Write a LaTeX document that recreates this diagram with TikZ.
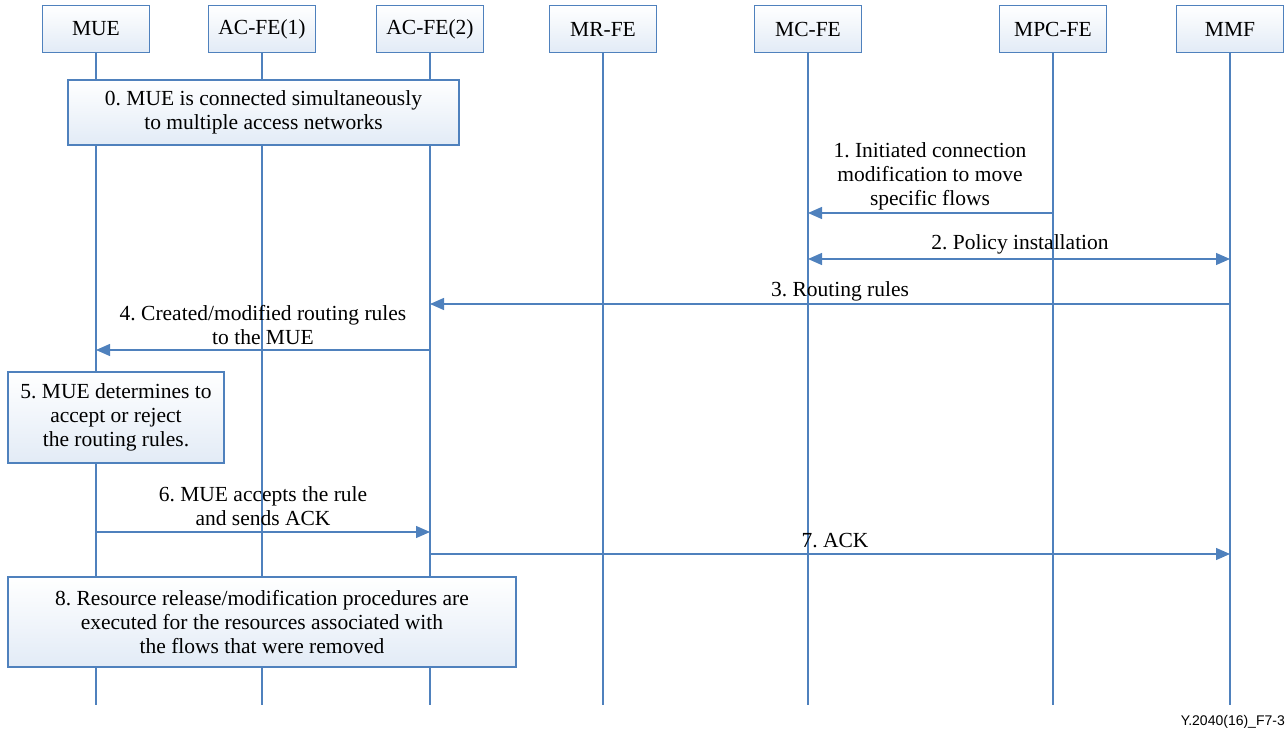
\documentclass[tikz,border=0pt]{standalone}
\usepackage{fontspec}
\setmainfont{Liberation Serif}
\setsansfont{Liberation Sans}
\usetikzlibrary{arrows.meta}
\usetikzlibrary{positioning}
\frenchspacing

\definecolor{lineblue}{RGB}{79,129,189}
\definecolor{boxblue}{RGB}{226,235,246}

\tikzset{
  every node/.style={font=\fontsize{21.5}{24}\selectfont},
  entity/.style={draw=lineblue, line width=1.3pt, top color=white, bottom color=boxblue,
                 minimum width=107pt, minimum height=47pt, inner sep=0pt},
  notebox/.style={draw=lineblue, line width=1.3pt, top color=white, bottom color=boxblue,
                  align=center, inner sep=0pt},
  lifeline/.style={draw=lineblue, line width=1.3pt},
  msg/.style={draw=lineblue, line width=1.3pt, >={Triangle[length=14pt,width=12pt]}},
  lbl/.style={align=center, inner sep=0pt}
}

\begin{document}
\begin{tikzpicture}[x=1pt,y=-1pt]
  \useasboundingbox (0,0) rectangle (1288,735);

  \node[entity] (mue)   at (96,29)   {MUE};
  \node[entity] (acfe1) at (262,29)  {AC-FE(1)};
  \node[entity] (acfe2) at (430,29)  {AC-FE(2)};
  \node[entity] (mrfe)  at (603,29)  {MR-FE};
  \node[entity] (mcfe)  at (808,29)  {MC-FE};
  \node[entity] (mpcfe) at (1053,29) {MPC-FE};
  \node[entity] (mmf)   at (1230,29) {MMF};

  \draw[lifeline] (mue)   -- (mue   |- 0,705);
  \draw[lifeline] (acfe1) -- (acfe1 |- 0,705);
  \draw[lifeline] (acfe2) -- (acfe2 |- 0,705);
  \draw[lifeline] (mrfe)  -- (mrfe  |- 0,705);
  \draw[lifeline] (mcfe)  -- (mcfe  |- 0,705);
  \draw[lifeline] (mpcfe) -- (mpcfe |- 0,705);
  \draw[lifeline] (mmf)   -- (mmf   |- 0,705);

  \node[notebox, minimum width=391pt, minimum height=65pt] (step0) at (263.5,112.5)
    {0. MUE is connected simultaneously\\to multiple access networks};

  \draw[msg,->] (mpcfe |- 0,213) -- (mcfe |- 0,213);
  \node[lbl] (lbl1) at (930,176) {1. Initiated connection\\modification to move\\specific flows};

  \draw[msg,<->] (mcfe |- 0,259) -- (mmf |- 0,259);
  \node[lbl] (lbl2) at (1020,244) {2. Policy installation};

  \draw[msg,->] (mmf |- 0,304) -- (acfe2 |- 0,304);
  \node[lbl] (lbl3) at (840,291) {3. Routing rules};

  \draw[msg,->] (acfe2 |- 0,350) -- (mue |- 0,350);
  \node[lbl] (lbl4) at (263,325) {4. Created/modified routing rules\\to the MUE};

  \node[notebox, minimum width=216pt, minimum height=91pt] (step5) at (116,417.5)
    {5. MUE determines to\\accept or reject\\the routing rules.};

  \draw[msg,->] (mue |- 0,532) -- (acfe2 |- 0,532);
  \node[lbl] (lbl6) at (263,506) {6. MUE accepts the rule\\and sends ACK};

  \draw[msg,->] (acfe2 |- 0,554) -- (mmf |- 0,554);
  \node[lbl] (lbl7) at (835,541) {7. ACK};

  \node[notebox, minimum width=508pt, minimum height=90pt] (step8) at (262,622)
    {8. Resource release/modification procedures are\\executed for the resources associated with\\the flows that were removed};

  \node[anchor=east, inner sep=0pt, font=\sffamily\fontsize{14}{16}\selectfont] (figid) at (1285,722) {Y.2040(16)\_F7-3};
\end{tikzpicture}
\end{document}
